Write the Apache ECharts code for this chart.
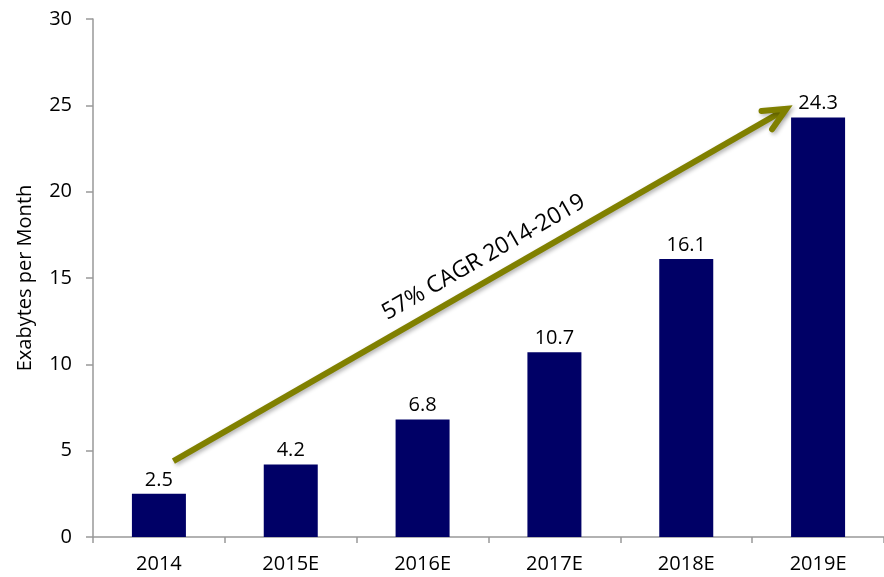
<!DOCTYPE html>
<html>
<head>
<meta charset="utf-8">
<script src="https://cdn.jsdelivr.net/npm/echarts@6/dist/echarts.min.js"></script>
<style>
  html, body { margin: 0; padding: 0; background: #fff; }
  #chart { width: 884px; height: 577px; }
</style>
</head>
<body>
<div id="chart"></div>
<script>
const categories = ['2014', '2015E', '2016E', '2017E', '2018E', '2019E'];
const traffic = [2.5, 4.2, 6.8, 10.7, 16.1, 24.3];
const yTicks = [0, 5, 10, 15, 20, 25, 30];
const yName = 'Exabytes per Month';

// CAGR arrow, as [category index, value]
const arrowStart = [0.11, 4.4];
const arrowEnd = [4.76, 24.8];
const arrowText = '57% CAGR 2014-2019';

const font = '"Open Sans", sans-serif';
const olive = '#808000';

const chart = echarts.init(document.getElementById('chart'));

const option = {
    animation: false,
    grid: { left: 93, right: -2, top: 19, bottom: 40 },
    xAxis: {
        type: 'category',
        data: categories,
        axisLine: { lineStyle: { color: '#999', width: 1.5 } },
        axisTick: { show: true, length: 6, lineStyle: { color: '#999', width: 1.5 } },
        axisLabel: { color: '#000', fontSize: 20, fontFamily: font, margin: 17 },
    },
    yAxis: {
        type: 'value',
        min: yTicks[0],
        max: yTicks[yTicks.length - 1],
        interval: 5,
        axisLine: { show: true, lineStyle: { color: '#999', width: 1.5 } },
        axisTick: { show: true, length: 7, lineStyle: { color: '#999', width: 1.5 } },
        axisLabel: { color: '#000', fontSize: 20, fontFamily: font, margin: 21 },
        splitLine: { show: false },
    },
    series: [
        {
            type: 'bar',
            data: traffic,
            barWidth: 54,
            itemStyle: { color: '#000066' },
            label: {
                show: true,
                position: 'top',
                distance: 4,
                color: '#000',
                fontSize: 20,
                fontFamily: font,
            },
        },
    ],
};

chart.setOption(option);

// map [category index (may be fractional), value] to pixels
function toPixel(pt) {
    const i = Math.floor(pt[0]);
    const x0 = chart.convertToPixel({ xAxisIndex: 0 }, i);
    const x1 = chart.convertToPixel({ xAxisIndex: 0 }, i + 1);
    const x = x0 + (pt[0] - i) * (x1 - x0);
    const y = chart.convertToPixel({ yAxisIndex: 0 }, pt[1]);
    return [x, y];
}

function drawExtras() {
    const a = toPixel(arrowStart);
    const b = toPixel(arrowEnd);
    const dx = b[0] - a[0];
    const dy = b[1] - a[1];
    const len = Math.sqrt(dx * dx + dy * dy);
    const ux = dx / len, uy = dy / len;
    const ang = Math.atan2(-dy, dx);

    // arrow head arms
    const armLen = 25, spread = 25 * Math.PI / 180;
    const arm = (s) => {
        const c = Math.cos(s), si = Math.sin(s);
        const bx = -ux, by = -uy;
        return [b[0] + armLen * (bx * c - by * si), b[1] + armLen * (bx * si + by * c)];
    };

    const shadow = {
        shadowColor: 'rgba(0,0,0,0.3)',
        shadowBlur: 4,
        shadowOffsetX: 2,
        shadowOffsetY: 2,
    };

    // label above the line
    const nx = uy, ny = -ux; // normal pointing up-left
    const mx = (a[0] + b[0]) / 2 + ux * 17 + nx * 22;
    const my = (a[1] + b[1]) / 2 + uy * 17 + ny * 22;

    // y axis title, centred on the axis
    const yMid = chart.convertToPixel({ yAxisIndex: 0 }, (yTicks[0] + yTicks[yTicks.length - 1]) / 2);

    chart.setOption({
        graphic: [
            {
                type: 'text',
                x: 25,
                y: yMid,
                rotation: Math.PI / 2,
                style: {
                    text: yName,
                    fill: '#000',
                    font: '20px "Open Sans", sans-serif',
                    align: 'center',
                    verticalAlign: 'middle',
                },
                silent: true,
            },
            {
                type: 'line',
                shape: { x1: a[0], y1: a[1], x2: b[0] - ux * 2, y2: b[1] - uy * 2 },
                style: Object.assign({ stroke: olive, lineWidth: 6 }, shadow),
                silent: true,
            },
            {
                type: 'polyline',
                shape: { points: [arm(spread), b, arm(-spread)] },
                style: Object.assign({ stroke: olive, lineWidth: 6, fill: null, lineJoin: 'miter', lineCap: 'round' }, shadow),
                silent: true,
            },
            {
                type: 'text',
                x: mx,
                y: my,
                rotation: ang,
                style: {
                    text: arrowText,
                    fill: '#000',
                    font: '23px "Open Sans", sans-serif',
                    align: 'center',
                    verticalAlign: 'middle',
                },
                silent: true,
            },
        ],
    });
}

drawExtras();
</script>
</body>
</html>
